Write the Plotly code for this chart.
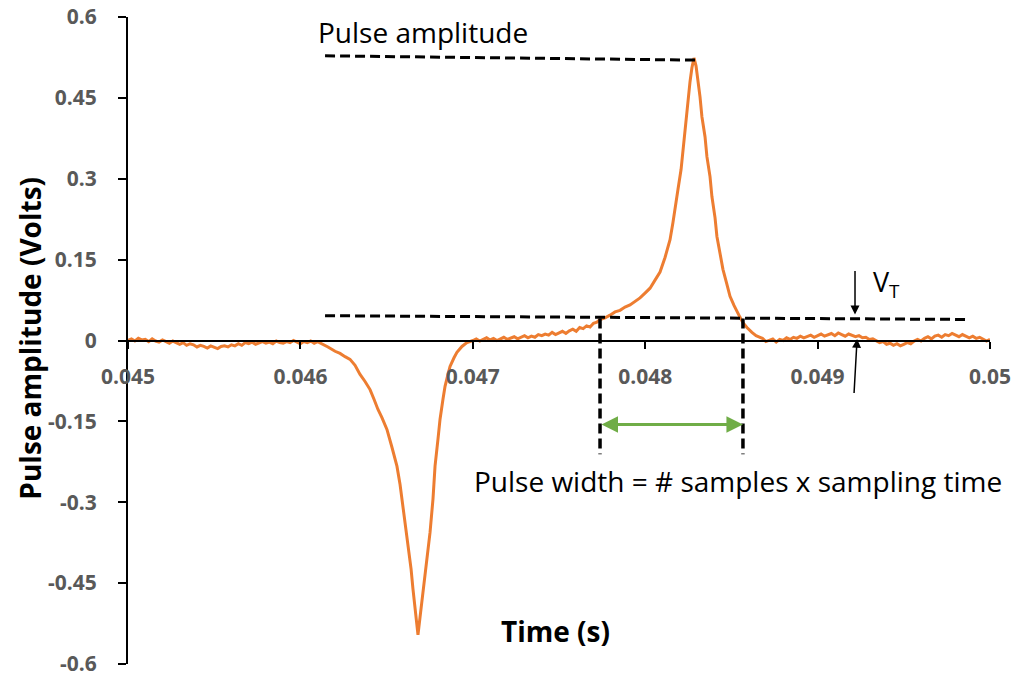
import plotly.graph_objects as go

# ---------------- data ----------------
time_s = [
    0.04500, 0.04502, 0.04504, 0.04506, 0.04508, 0.04510, 0.04512, 0.04514, 0.04516, 0.04518,
    0.04520, 0.04522, 0.04524, 0.04526, 0.04528, 0.04530, 0.04532, 0.04534, 0.04536, 0.04538,
    0.04540, 0.04542, 0.04544, 0.04546, 0.04548, 0.04550, 0.04552, 0.04554, 0.04556, 0.04558,
    0.04560, 0.04562, 0.04564, 0.04566, 0.04568, 0.04570, 0.04572, 0.04574, 0.04576, 0.04578,
    0.04580, 0.04582, 0.04584, 0.04586, 0.04588, 0.04590, 0.04592, 0.04594, 0.04596, 0.04598,
    0.04600, 0.04602, 0.04604, 0.04606, 0.04608, 0.04610, 0.04612, 0.04614, 0.04616,
    # negative pulse
    0.046201, 0.046230, 0.046259, 0.046288, 0.046317, 0.046346, 0.046375, 0.046404, 0.046427,
    0.046450, 0.046473, 0.046502, 0.046531, 0.046560, 0.046578, 0.046595, 0.046612, 0.046624,
    0.046642, 0.046653, 0.046671, 0.046682, 0.046694, 0.046711, 0.046734, 0.046752, 0.046769,
    0.046781, 0.046798, 0.046810, 0.046827, 0.046839, 0.046856, 0.046868, 0.046891, 0.046908,
    0.046937, 0.046966, 0.047001,
    # recovery
    0.04702, 0.04704, 0.04706, 0.04708, 0.04710, 0.04712, 0.04714, 0.04716, 0.04718, 0.04720,
    0.04722, 0.04724, 0.04726, 0.04728, 0.04730, 0.04732, 0.04734, 0.04736, 0.04738, 0.04740,
    0.04742, 0.04744, 0.04746, 0.04748, 0.04750, 0.04752, 0.04754, 0.04756, 0.04758, 0.04760,
    0.04762, 0.04764, 0.04766, 0.04768, 0.04770, 0.04772,
    # positive pulse
    0.047738, 0.047767, 0.047796, 0.047825, 0.047854, 0.047883, 0.047912, 0.047941, 0.047970,
    0.047999, 0.048028, 0.048057, 0.048086, 0.048115, 0.048144, 0.048161, 0.048179, 0.048190,
    0.048208, 0.048219, 0.048237, 0.048248, 0.048260, 0.048271, 0.048283, 0.048295, 0.048306,
    0.048318, 0.048329, 0.048347, 0.048358, 0.048376, 0.048387, 0.048405, 0.048416, 0.048434,
    0.048451, 0.048474, 0.048492, 0.048515, 0.048533, 0.048550, 0.048567, 0.048590, 0.048619,
    0.048643, 0.048666,
    # tail
    0.04868, 0.04870, 0.04872, 0.04874, 0.04876, 0.04878, 0.04880, 0.04882, 0.04884, 0.04886,
    0.04888, 0.04890, 0.04892, 0.04894, 0.04896, 0.04898, 0.04900, 0.04902, 0.04904, 0.04906,
    0.04908, 0.04910, 0.04912, 0.04914, 0.04916, 0.04918, 0.04920, 0.04922, 0.04924, 0.04926,
    0.04928, 0.04930, 0.04932, 0.04934, 0.04936, 0.04938, 0.04940, 0.04942, 0.04944, 0.04946,
    0.04948, 0.04950, 0.04952, 0.04954, 0.04956, 0.04958, 0.04960, 0.04962, 0.04964, 0.04966,
    0.04968, 0.04970, 0.04972, 0.04974, 0.04976, 0.04978, 0.04980, 0.04982, 0.04984, 0.04986,
    0.04988, 0.04990, 0.04992, 0.04994, 0.04996, 0.04998, 0.05000,
]

volts = [
    0.000, 0.003, -0.001, 0.004, 0.001, 0.002, -0.002, 0.003, -0.001, -0.003,
    0.001, -0.002, -0.005, -0.001, -0.004, -0.007, -0.004, -0.009, -0.006, -0.008,
    -0.012, -0.009, -0.011, -0.014, -0.010, -0.013, -0.015, -0.011, -0.010, -0.012,
    -0.008, -0.010, -0.006, -0.009, -0.004, -0.006, -0.003, -0.007, -0.004, -0.002,
    -0.005, -0.003, -0.006, -0.001, -0.004, -0.005, -0.002, -0.004, 0.000, -0.003,
    -0.006, -0.002, -0.004, -0.001, -0.005, -0.002, -0.005, -0.008, -0.012,
    # negative pulse
    -0.020, -0.024, -0.030, -0.035, -0.046, -0.063, -0.076, -0.091, -0.109,
    -0.128, -0.143, -0.165, -0.198, -0.233, -0.267, -0.307, -0.346, -0.382,
    -0.424, -0.461, -0.507, -0.546, -0.513, -0.467, -0.406, -0.356, -0.294,
    -0.233, -0.183, -0.146, -0.109, -0.085, -0.063, -0.048, -0.032, -0.022,
    -0.011, -0.004, 0.000,
    # recovery
    0.003, -0.001, 0.002, 0.005, 0.001, 0.004, 0.000, 0.003, 0.006, 0.002,
    0.004, 0.007, 0.003, 0.006, 0.009, 0.005, 0.008, 0.006, 0.011, 0.009,
    0.012, 0.010, 0.015, 0.011, 0.014, 0.017, 0.013, 0.018, 0.021, 0.017,
    0.024, 0.022, 0.027, 0.025, 0.032, 0.034,
    # positive pulse
    0.039, 0.042, 0.047, 0.053, 0.056, 0.062, 0.066, 0.072, 0.079,
    0.088, 0.097, 0.112, 0.127, 0.154, 0.187, 0.219, 0.252, 0.280,
    0.317, 0.354, 0.406, 0.446, 0.480, 0.506, 0.524, 0.509, 0.483,
    0.452, 0.415, 0.378, 0.341, 0.304, 0.267, 0.228, 0.193, 0.159,
    0.132, 0.104, 0.082, 0.065, 0.052, 0.043, 0.033, 0.024, 0.015,
    0.009, 0.006,
    # tail
    0.004, -0.002, 0.001, 0.003, -0.003, 0.002, 0.000, 0.005, 0.002, 0.006,
    0.004, 0.008, 0.005, 0.007, 0.010, 0.006, 0.009, 0.012, 0.008, 0.011,
    0.013, 0.009, 0.014, 0.011, 0.008, 0.012, 0.010, 0.007, 0.009, 0.005,
    0.006, 0.002, 0.003, -0.001, -0.004, -0.002, -0.007, -0.005, -0.009, -0.006,
    -0.010, -0.007, -0.004, -0.006, -0.001, 0.002, -0.001, 0.004, 0.007, 0.003,
    0.008, 0.010, 0.006, 0.011, 0.009, 0.013, 0.010, 0.007, 0.011, 0.008,
    0.005, 0.008, 0.004, 0.006, 0.002, -0.001, 0.002,
]

x_ticks = [0.045, 0.046, 0.047, 0.048, 0.049, 0.05]
x_tick_labels = ["0.045", "0.046", "0.047", "0.048", "0.049", "0.05"]
y_ticks = [0.6, 0.45, 0.3, 0.15, 0, -0.15, -0.3, -0.45, -0.6]
y_tick_labels = ["0.6", "0.45", "0.3", "0.15", "0", "-0.15", "-0.3", "-0.45", "-0.6"]

# annotation geometry (data units)
amp_line_t = [0.046143, 0.048306]
amp_line_v = [0.528, 0.520]
thr_line_t = [0.046143, 0.049867]
thr_line_v = [0.046, 0.039]
width_edges_t = [0.047738, 0.048567]
width_edges_v = [0.041, -0.211]
width_arrow_v = -0.156

ORANGE = "#ED7D31"
GREEN = "#70AD47"
TICK_GRAY = "#595959"
FONT = "Open Sans"

fig = go.Figure()
fig.add_trace(go.Scatter(x=time_s, y=volts, mode="lines",
                         line=dict(color=ORANGE, width=3), hoverinfo="skip",
                         showlegend=False))

dash = "10px,5px"
shapes = [
    dict(type="line", xref="x", yref="y", x0=amp_line_t[0], y0=amp_line_v[0],
         x1=amp_line_t[1], y1=amp_line_v[1], line=dict(color="black", width=3, dash=dash)),
    dict(type="line", xref="x", yref="y", x0=thr_line_t[0], y0=thr_line_v[0],
         x1=thr_line_t[1], y1=thr_line_v[1], line=dict(color="black", width=3, dash=dash)),
]
for t in width_edges_t:
    shapes.append(dict(type="line", xref="x", yref="y", x0=t, y0=width_edges_v[0],
                       x1=t, y1=width_edges_v[1],
                       line=dict(color="black", width=3.5, dash=dash)))

annotations = [
    dict(x=0.046091, y=0.572, xref="x", yref="y", text="Pulse amplitude", showarrow=False,
         xanchor="left", yanchor="middle", font=dict(family=FONT, size=28, color="black")),
    dict(x=0.046995, y=-0.261, xref="x", yref="y",
         text="Pulse width = # samples x sampling time", showarrow=False,
         xanchor="left", yanchor="middle", font=dict(family=FONT, size=28, color="black")),
    dict(x=0.04931, y=0.105, xref="x", yref="y", text="V<sub>T</sub>", showarrow=False,
         xanchor="left", yanchor="middle", font=dict(family=FONT, size=27, color="black")),
    dict(x=0.047477, y=-0.539, xref="x", yref="y", text="Time (s)", showarrow=False,
         xanchor="center", yanchor="middle",
         font=dict(family=FONT, size=28, color="black", weight="bold")),
    dict(x=-0.114, y=0.504, xref="paper", yref="paper", text="Pulse amplitude (Volts)",
         showarrow=False, textangle=-90, xanchor="center", yanchor="middle",
         font=dict(family=FONT, size=28, color="black", weight="bold")),
    # green double arrow
    dict(x=width_edges_t[1], y=width_arrow_v, ax=width_edges_t[0], ay=width_arrow_v,
         xref="x", yref="y", axref="x", ayref="y", text="", showarrow=True,
         arrowhead=2, startarrowhead=2, arrowside="end+start", arrowsize=1.1,
         arrowwidth=3, arrowcolor=GREEN, standoff=0, startstandoff=0),
    # VT down arrow
    dict(x=0.049217, y=0.048, ax=0.049217, ay=0.1315, xref="x", yref="y",
         axref="x", ayref="y", text="", showarrow=True, arrowhead=2, arrowsize=1.2,
         arrowwidth=1.5, arrowcolor="black"),
    # VT up arrow
    dict(x=0.049229, y=0.003, ax=0.049211, ay=-0.100, xref="x", yref="y",
         axref="x", ayref="y", text="", showarrow=True, arrowhead=2, arrowsize=1.2,
         arrowwidth=1.5, arrowcolor="black"),
]

fig.update_layout(
    width=1017, height=677,
    margin=dict(l=128, r=27, t=17, b=13, autoexpand=False),
    paper_bgcolor="white", plot_bgcolor="white",
    shapes=shapes, annotations=annotations,
    xaxis=dict(range=[0.045, 0.05], tickvals=x_ticks, ticktext=x_tick_labels,
               ticks="outside", ticklen=7, tickwidth=2, tickcolor="black",
               showline=True, linecolor="black", linewidth=2,
               anchor="free", position=0.5, showgrid=False, zeroline=False,
               automargin=False, ticklabelstandoff=10, ticklabeloverflow="allow",
               tickfont=dict(family=FONT, size=21, color=TICK_GRAY, weight="bold")),
    yaxis=dict(range=[-0.6, 0.6], tickvals=y_ticks, ticktext=y_tick_labels,
               ticks="outside", ticklen=8, tickwidth=2, tickcolor="black",
               showline=True, linecolor="black", linewidth=2,
               showgrid=False, zeroline=False, automargin=False, ticklabelstandoff=17,
               ticklabeloverflow="allow",
               tickfont=dict(family=FONT, size=21, color=TICK_GRAY, weight="bold")),
)

fig.write_html("out.html")
